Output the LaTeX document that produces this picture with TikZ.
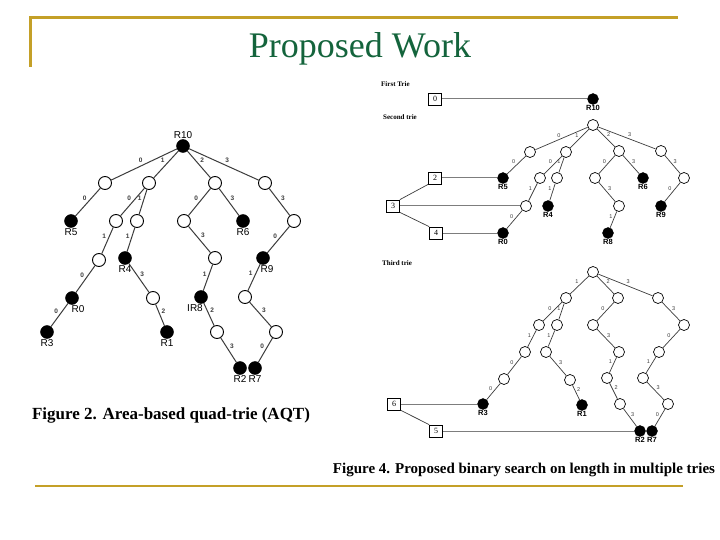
\documentclass[tikz,border=0pt]{standalone}
\usepackage{fontspec}
\setmainfont{Liberation Serif}
\setsansfont{Liberation Sans}
\usepackage{tikz}
\definecolor{slidegold}{RGB}{196,160,40}
\definecolor{slidegreen}{RGB}{20,100,60}
\definecolor{edgegray}{RGB}{60,60,60}
\definecolor{linkgray}{RGB}{125,125,125}
\tikzset{
  wnode/.style={circle, draw=black, fill=white, minimum size=13pt,
    inner sep=0pt, line width=0.9pt},
  bnode/.style={circle, draw=black, fill=black, minimum size=13pt,
    inner sep=0pt},
  swnode/.style={wnode, minimum size=11pt, line width=0.7pt},
  sbnode/.style={bnode, minimum size=11pt},
  lenbox/.style={rectangle, draw=black, fill=white, minimum width=13pt,
    minimum height=12pt, inner sep=0pt, line width=0.8pt,
    font=\fontsize{8}{8}\selectfont},
  qedge/.style={edgegray, line width=1pt},
  tedge/.style={edgegray, line width=0.7pt},
  link/.style={linkgray, line width=1pt},
  qlab/.style={font=\sffamily\bfseries\fontsize{6.5}{6.5}\selectfont, inner sep=1pt},
  tlab/.style={font=\sffamily\fontsize{5.5}{5.5}\selectfont, inner sep=0.8pt},
  rlab/.style={font=\sffamily\fontsize{10}{10}\selectfont, inner sep=1pt},
  srlab/.style={font=\sffamily\bfseries\fontsize{7.5}{7.5}\selectfont, inner sep=0.5pt},
  trie/.style={font=\bfseries\fontsize{7}{7}\selectfont, anchor=west, inner sep=0pt},
  caption/.style={font=\bfseries\fontsize{17}{17}\selectfont, anchor=base}
}

\begin{document}
\begin{tikzpicture}[x=1pt, y=-1pt]
  \useasboundingbox (0,0) rectangle (720,540);
  \fill[white] (0,0) rectangle (720,540);

  % Slide frame and title
  \draw[slidegold, line width=3pt] (30,67) -- (30,18) -- (678,18);
  \draw[slidegold, line width=2pt] (35,486) -- (683,486);
  \node[font=\fontsize{36}{36}\selectfont, text=slidegreen, anchor=base] (title) at (360,58) {Proposed Work};

  % Area-based quad-trie
  \node[bnode, label={[rlab]above:R10}] (aR10) at (183,146) {};
  \node[wnode] (a0) at (105,183) {};
  \node[wnode] (a1) at (149,183) {};
  \node[wnode] (a2) at (215,183) {};
  \node[wnode] (a3) at (265,183) {};
  \node[bnode, label={[rlab]below:R5}] (aR5) at (71,221) {};
  \node[wnode] (a10) at (116,221) {};
  \node[wnode] (a11) at (137,221) {};
  \node[wnode] (a20) at (184,221) {};
  \node[bnode, label={[rlab]below:R6}] (aR6) at (243,221) {};
  \node[wnode] (a33) at (294,221) {};
  \node[wnode] (a101) at (99,260) {};
  \node[bnode, label={[rlab]below:R4}] (aR4) at (125,258) {};
  \node[wnode] (a203) at (215,258) {};
  \node[bnode, label={[rlab, xshift=4pt]below:R9}] (aR9) at (263,258) {};
  \node[bnode, label={[rlab, xshift=6pt]below:R0}] (aR0) at (72,298) {};
  \node[wnode] (a413) at (153,298) {};
  \node[bnode, label={[rlab, xshift=-6pt]below:IR8}] (aR8) at (201,297) {};
  \node[wnode] (a91) at (245,297) {};
  \node[bnode, label={[rlab]below:R3}] (aR3) at (47,332) {};
  \node[bnode, label={[rlab]below:R1}] (aR1) at (167,332) {};
  \node[wnode] (a82) at (217,332) {};
  \node[wnode] (a913) at (276,332) {};
  \node[bnode, label={[rlab]below:R2}] (aR2) at (240,368) {};
  \node[bnode, label={[rlab]below:R7}] (aR7) at (255,368) {};

  \draw[qedge] (aR10) -- node[qlab, above left] {0} (a0);
  \draw[qedge] (aR10) -- node[qlab, above left] {1} (a1);
  \draw[qedge] (aR10) -- node[qlab, above right] {2} (a2);
  \draw[qedge] (aR10) -- node[qlab, above right] {3} (a3);
  \draw[qedge] (a0) -- node[qlab, above left] {0} (aR5);
  \draw[qedge] (a1) -- node[qlab, above left] {0} (a10);
  \draw[qedge] (a1) -- node[qlab, above left] {1} (a11);
  \draw[qedge] (a2) -- node[qlab, above left] {0} (a20);
  \draw[qedge] (a2) -- node[qlab, above right] {3} (aR6);
  \draw[qedge] (a3) -- node[qlab, above right] {3} (a33);
  \draw[qedge] (a10) -- node[qlab, above left] {1} (a101);
  \draw[qedge] (a11) -- node[qlab, above left] {1} (aR4);
  \draw[qedge] (a20) -- node[qlab, above right] {3} (a203);
  \draw[qedge] (a33) -- node[qlab, above left] {0} (aR9);
  \draw[qedge] (a101) -- node[qlab, above left] {0} (aR0);
  \draw[qedge] (aR4) -- node[qlab, above right] {3} (a413);
  \draw[qedge] (a203) -- node[qlab, above left] {1} (aR8);
  \draw[qedge] (aR9) -- node[qlab, above left] {1} (a91);
  \draw[qedge] (aR0) -- node[qlab, above left] {0} (aR3);
  \draw[qedge] (a413) -- node[qlab, above right] {2} (aR1);
  \draw[qedge] (aR8) -- node[qlab, above right] {2} (a82);
  \draw[qedge] (a91) -- node[qlab, above right] {3} (a913);
  \draw[qedge] (a82) -- node[qlab, above right] {3} (aR2);
  \draw[qedge] (a913) -- node[qlab, above left] {0} (aR7);

  \node[caption] (capaqt) at (171,419) {Figure 2. Area-based quad-trie (AQT)};

  % First trie
  \node[trie] (first) at (381,84) {First Trie};
  \node[lenbox] (f0) at (435,99) {0};
  \node[sbnode, label={[srlab]below:R10}] (sR10) at (593,99) {};
  \draw[link] (f0) -- (sR10);

  % Second trie
  \node[trie] (second) at (383,117) {Second trie};
  \node[swnode] (sroot) at (593,125) {};
  \node[swnode] (s0) at (530,152) {};
  \node[swnode] (s1) at (566,152) {};
  \node[swnode] (s2) at (619,151) {};
  \node[swnode] (s3) at (661,151) {};
  \node[sbnode, label={[srlab]below:R5}] (sR5) at (503,178) {};
  \node[swnode] (s10) at (540,178) {};
  \node[swnode] (s11) at (557,178) {};
  \node[swnode] (s20) at (595,178) {};
  \node[sbnode, label={[srlab]below:R6}] (sR6) at (643,178) {};
  \node[swnode] (s33) at (684,178) {};
  \node[swnode] (s101) at (526,206) {};
  \node[sbnode, label={[srlab]below:R4}] (sR4) at (548,206) {};
  \node[swnode] (s203) at (619,206) {};
  \node[sbnode, label={[srlab]below:R9}] (sR9) at (661,206) {};
  \node[sbnode, label={[srlab]below:R0}] (sR0) at (503,233) {};
  \node[sbnode, label={[srlab]below:R8}] (sR8) at (608,233) {};

  \draw[tedge] (sroot) -- node[tlab, above left] {0} (s0);
  \draw[tedge] (sroot) -- node[tlab, above left] {1} (s1);
  \draw[tedge] (sroot) -- node[tlab, above right] {2} (s2);
  \draw[tedge] (sroot) -- node[tlab, above right] {3} (s3);
  \draw[tedge] (s0) -- node[tlab, above left] {0} (sR5);
  \draw[tedge] (s1) -- node[tlab, above left] {0} (s10);
  \draw[tedge] (s1) -- node[tlab, above left] {1} (s11);
  \draw[tedge] (s2) -- node[tlab, above left] {0} (s20);
  \draw[tedge] (s2) -- node[tlab, above right] {3} (sR6);
  \draw[tedge] (s3) -- node[tlab, above right] {3} (s33);
  \draw[tedge] (s10) -- node[tlab, above left] {1} (s101);
  \draw[tedge] (s11) -- node[tlab, above left] {1} (sR4);
  \draw[tedge] (s20) -- node[tlab, above right] {3} (s203);
  \draw[tedge] (s33) -- node[tlab, above left] {0} (sR9);
  \draw[tedge] (s101) -- node[tlab, above left] {0} (sR0);
  \draw[tedge] (s203) -- node[tlab, above left] {1} (sR8);

  \node[lenbox] (b2) at (435,178) {2};
  \node[lenbox] (b3) at (393,206) {3};
  \node[lenbox] (b4) at (436,233) {4};
  \draw[link] (b2) -- (sR5);
  \draw[link] (b3) -- (s101);
  \draw[link] (b4) -- (sR0);
  \draw[tedge] (b3.north east) -- (b2.south west);
  \draw[tedge] (b3.south east) -- (b4.north west);

  % Third trie
  \node[trie] (third) at (382,263) {Third trie};
  \node[swnode] (troot) at (593,272) {};
  \node[swnode] (t1) at (566,298) {};
  \node[swnode] (t2) at (618,298) {};
  \node[swnode] (t3) at (658,298) {};
  \node[swnode] (t10) at (539,325) {};
  \node[swnode] (t11) at (557,325) {};
  \node[swnode] (t20) at (593,325) {};
  \node[swnode] (t33) at (684,325) {};
  \node[swnode] (t101) at (525,352) {};
  \node[swnode] (t111) at (546,352) {};
  \node[swnode] (t203) at (619,352) {};
  \node[swnode] (t330) at (659,352) {};
  \node[swnode] (t1010) at (504,379) {};
  \node[swnode] (t1113) at (570,380) {};
  \node[swnode] (t2031) at (607,378) {};
  \node[swnode] (t3301) at (643,378) {};
  \node[sbnode, label={[srlab]below:R3}] (tR3) at (483,404) {};
  \node[sbnode, label={[srlab]below:R1}] (tR1) at (582,405) {};
  \node[swnode] (t2032) at (620,404) {};
  \node[swnode] (t3303) at (668,404) {};
  \node[sbnode, label={[srlab]below:R2}] (tR2) at (640,431) {};
  \node[sbnode, label={[srlab]below:R7}] (tR7) at (652,431) {};

  \draw[tedge] (troot) -- node[tlab, above left] {1} (t1);
  \draw[tedge] (troot) -- node[tlab, above right] {2} (t2);
  \draw[tedge] (troot) -- node[tlab, above right] {3} (t3);
  \draw[tedge] (t1) -- node[tlab, above left] {0} (t10);
  \draw[tedge] (t1) -- node[tlab, above left] {1} (t11);
  \draw[tedge] (t2) -- node[tlab, above left] {0} (t20);
  \draw[tedge] (t3) -- node[tlab, above right] {3} (t33);
  \draw[tedge] (t10) -- node[tlab, above left] {1} (t101);
  \draw[tedge] (t11) -- node[tlab, above left] {1} (t111);
  \draw[tedge] (t20) -- node[tlab, above right] {3} (t203);
  \draw[tedge] (t33) -- node[tlab, above left] {0} (t330);
  \draw[tedge] (t101) -- node[tlab, above left] {0} (t1010);
  \draw[tedge] (t111) -- node[tlab, above right] {3} (t1113);
  \draw[tedge] (t203) -- node[tlab, above left] {1} (t2031);
  \draw[tedge] (t330) -- node[tlab, above left] {1} (t3301);
  \draw[tedge] (t1010) -- node[tlab, above left] {0} (tR3);
  \draw[tedge] (t1113) -- node[tlab, above right] {2} (tR1);
  \draw[tedge] (t2031) -- node[tlab, above right] {2} (t2032);
  \draw[tedge] (t3301) -- node[tlab, above right] {3} (t3303);
  \draw[tedge] (t2032) -- node[tlab, above right] {3} (tR2);
  \draw[tedge] (t3303) -- node[tlab, above left] {0} (tR7);

  \node[lenbox] (b6) at (394,404) {6};
  \node[lenbox] (b5) at (436,431) {5};
  \draw[link] (b6) -- (tR3);
  \draw[link] (b5) -- (tR2);
  \draw[tedge] (b6.south east) -- (b5.north west);

  \node[caption, font=\bfseries\fontsize{15}{15}\selectfont] (captries) at (524,473) {Figure 4. Proposed binary search on length in multiple tries};
\end{tikzpicture}
\end{document}
